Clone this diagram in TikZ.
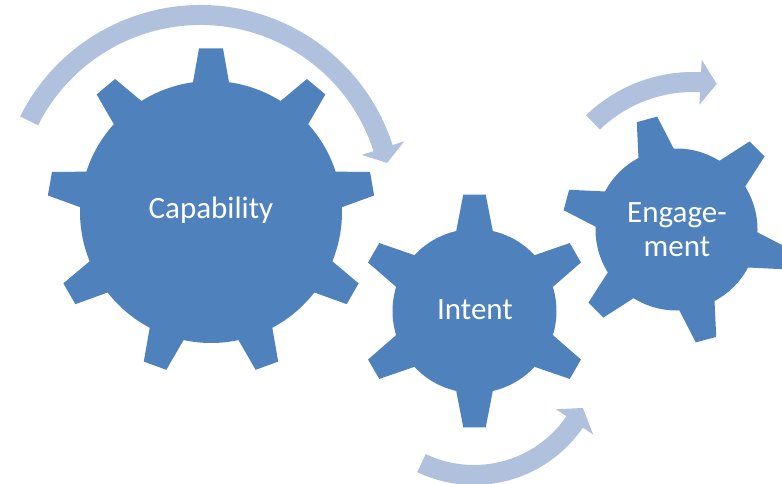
\documentclass[tikz,border=0pt]{standalone}
\usepackage{fontspec}
\setmainfont{Carlito}
\definecolor{gearblue}{RGB}{79,129,189}
\definecolor{arrowblue}{RGB}{176,193,222}
\begin{document}
\begin{tikzpicture}[x=1pt,y=1pt,
  gearshape/.style={fill=gearblue},
  cyclearrow/.style={fill=arrowblue},
  gearlabel/.style={text=white,font=\fontsize{31}{34}\selectfont,inner sep=0pt,align=center}]
\clip (0,0) rectangle (782,483);
% arrows
\begin{scope}[shift={(200.5,276.3)}]
\fill[cyclearrow] (153.4:201.7pt) arc[start angle=153.4,end angle=17.8,radius=201.7pt]
  -- (17.8:214pt) -- (13.2:191.7pt) -- (17.8:169.4pt) -- (17.8:181.7pt)
  arc[start angle=17.8,end angle=153.4,radius=181.7pt] -- cycle;
\end{scope}
\begin{scope}[shift={(693,257)}]
\fill[cyclearrow] (134:154pt) arc[start angle=134,end angle=87,radius=154pt]
  -- (87:166.5pt) -- (80.5:144pt) -- (87:121.5pt) -- (87:134pt)
  arc[start angle=87,end angle=134,radius=134pt] -- cycle;
\end{scope}
\begin{scope}[shift={(474,130)}]
\fill[cyclearrow] (244.5:132pt) arc[start angle=244.5,end angle=325.6,radius=132pt]
  -- (325.6:144.5pt) -- (333.2:122pt) -- (325.6:99.5pt) -- (325.6:112pt)
  arc[start angle=325.6,end angle=244.5,radius=112pt] -- cycle;
\end{scope}
% large gear
\begin{scope}[shift={(211,271)}]
\fill[gearshape] (82.1:131pt) \foreach \i in {0,...,8}{
  -- ({90+40*\i-7.9}:131pt) -- ({90+40*\i-4.2}:164pt) -- ({90+40*\i+4.2}:164pt)
  -- ({90+40*\i+7.9}:131pt) arc[start angle={90+40*\i+7.9},end angle={90+40*\i+32.1},radius=131pt]} -- cycle;
\end{scope}
% medium gear
\begin{scope}[shift={(474.5,172)}]
\fill[gearshape] (77.1:82pt) \foreach \i in {0,...,5}{
  -- ({90+60*\i-12.9}:82pt) -- ({90+60*\i-5.5}:117pt) -- ({90+60*\i+5.5}:117pt)
  -- ({90+60*\i+12.9}:82pt) arc[start angle={90+60*\i+12.9},end angle={90+60*\i+47.1},radius=82pt]} -- cycle;
\end{scope}
% small gear
\begin{scope}[shift={(676.5,253.5)}]
\fill[gearshape] (92:81pt) \foreach \i in {0,...,5}{
  -- ({105+60*\i-13}:81pt) -- ({105+60*\i-5.3}:114.5pt) -- ({105+60*\i+5.3}:114.5pt)
  -- ({105+60*\i+13}:81pt) arc[start angle={105+60*\i+13},end angle={105+60*\i+47},radius=81pt]} -- cycle;
\end{scope}
% labels
\node[gearlabel,anchor=base] (capability) at (211,265) {Capability};
\node[gearlabel,anchor=base] (intent) at (475,163.7) {Intent};
\node[gearlabel,anchor=base] (engagement) at (677,226.3) {Engage-\\ment};
\end{tikzpicture}
\end{document}
